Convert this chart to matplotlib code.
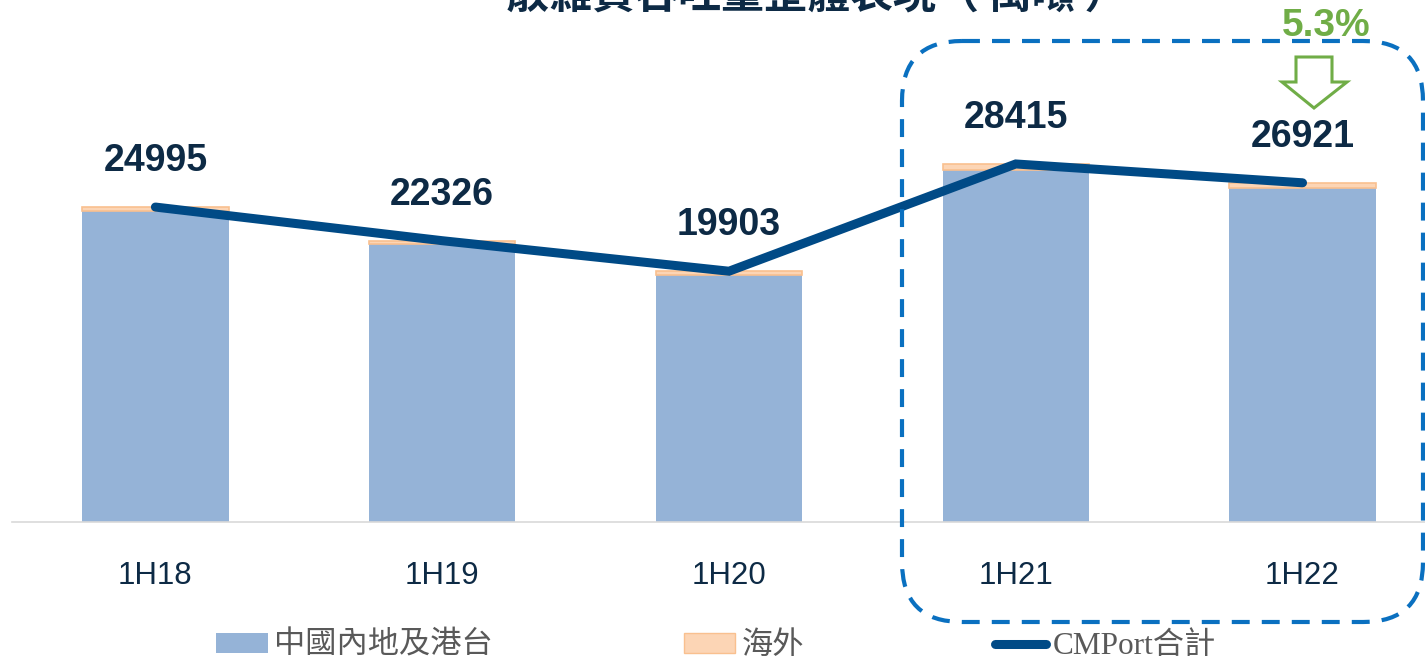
import numpy as np
import matplotlib.pyplot as plt
from matplotlib.patches import FancyBboxPatch, Polygon
from matplotlib.lines import Line2D
from matplotlib.patches import Patch
import matplotlib.transforms as mtransforms

plt.rcParams['font.family'] = ['Liberation Sans', 'Noto Sans CJK TC', 'DejaVu Sans']

# 數據（萬噸）
periods = ['1H18', '1H19', '1H20', '1H21', '1H22']
total = np.array([24995, 22326, 19903, 28415, 26921])
overseas = np.array([330, 300, 300, 470, 450])
mainland = total - overseas

W, H = 1425, 661
fig = plt.figure(figsize=(W / 100, H / 100), dpi=100)
ax = fig.add_axes([12 / W, (H - 522) / H, (W - 12) / W, 522 / H])

x = np.arange(len(periods))
bw = 0.51
ax.bar(x, mainland, width=bw, color='#95b3d7', label='中國內地及港台', zorder=2)
ax.bar(x, overseas, width=bw, bottom=mainland, color='#fcd5b5',
       edgecolor='#f9c08f', linewidth=1.2, label='海外', zorder=2)
ax.plot(x, total, color='#004a86', linewidth=6.5, solid_capstyle='round',
        solid_joinstyle='miter', label='CMPort合計', zorder=3)

for xi, v in zip(x, total):
    ax.annotate(str(v), (xi, v), xytext=(0, 33), textcoords='offset points',
                ha='center', va='center', fontsize=27, fontweight='bold',
                color='#0d2a45')

ax.set_xlim(-0.5, 4.427)
ax.set_ylim(0, 522 / 0.0126)
ax.set_xticks(x)
ax.set_xticklabels(periods, fontsize=22.5, color='#0d2a45')
ax.tick_params(axis='x', length=0, pad=28)
ax.set_yticks([])
for s in ['top', 'right', 'left']:
    ax.spines[s].set_visible(False)
ax.spines['bottom'].set_color('#d9d9d9')
ax.spines['bottom'].set_linewidth(1.2)

# 標題（頂部被裁切）
fig.text(817 / W, 1 - 17 / H, '散雜貨吞吐量整體表現（ 萬噸 ）', ha='center', va='bottom',
         fontsize=31, fontweight='bold', color='#0d2a45',
         family=['Noto Sans CJK TC', 'DejaVu Sans'])

# 虛線圓角框
px = mtransforms.Affine2D().scale(1, -1).translate(0, H)
box = FancyBboxPatch((902, 41), 521, 581, boxstyle='round,pad=0,rounding_size=60',
                     fill=False, edgecolor='#0a70c0', linewidth=3, linestyle=(0, (4.3, 2.9)),
                     transform=px, figure=fig)
fig.patches.append(box)

# 5.3% 及箭頭
fig.text(1326 / W, 1 - 26 / H, '5.3%', ha='center', va='center', fontsize=28,
         fontweight='bold', color='#70ad47')
arrow = Polygon([(1296, 57), (1332, 57), (1332, 82), (1347, 82), (1314, 108),
                 (1282, 82), (1296, 82)], closed=True, fill=False,
                edgecolor='#70ad47', linewidth=2.2, transform=px, figure=fig)
fig.patches.append(arrow)

# 圖例
handles = [Patch(facecolor='#95b3d7', edgecolor='none'),
           Patch(facecolor='#fcd5b5', edgecolor='#f9c08f'),
           Line2D([0], [0], color='#004a86', linewidth=6.5, solid_capstyle='round')]
labels = ['中國內地及港台', '海外', 'CMPort合計']
leg = fig.legend(handles, labels, ncol=3, loc='center', bbox_to_anchor=(716 / W, 1 - 645 / H),
                 frameon=False, fontsize=22.5, handlelength=1.65, handleheight=0.6,
                 handletextpad=0.2, columnspacing=6.1, borderpad=0)
for t in leg.get_texts():
    t.set_color('#595959')
leg.get_texts()[2].set_family(['Liberation Serif', 'Noto Sans CJK TC'])
for t in leg.get_texts()[:2]:
    t.set_family(['Noto Sans CJK TC', 'DejaVu Sans'])

fig.savefig('out.png', dpi=100)
